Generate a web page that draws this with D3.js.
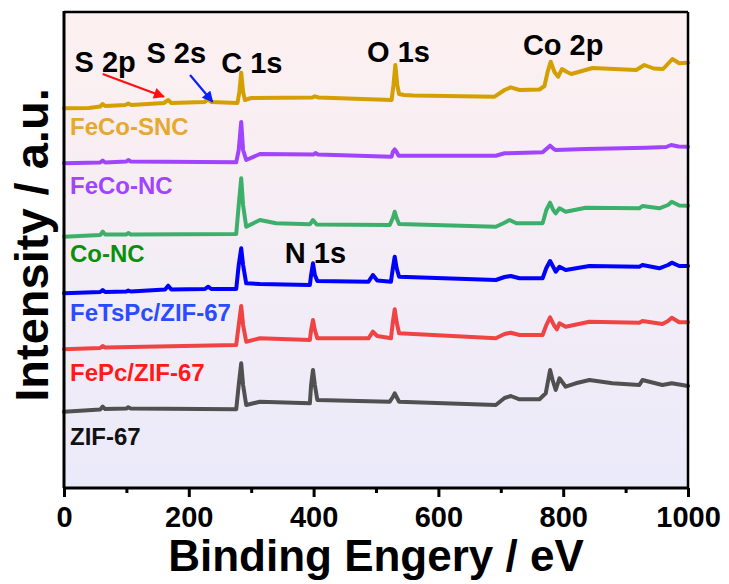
<!DOCTYPE html>
<html><head><meta charset="utf-8">
<script src="https://cdn.jsdelivr.net/npm/d3@7"></script>
<style>body{margin:0;background:#fff}svg{display:block}text{font-family:"Liberation Sans",Arial,sans-serif;font-weight:bold}</style>
</head><body><svg id="c" width="729" height="584"></svg>
<script>
// Binding energy (eV) vs intensity (a.u., offset-stacked)
const xTicks = [0, 200, 400, 600, 800, 1000];
const xMinor = [100, 300, 500, 700, 900];
const seriesNames = ["FeCo-SNC", "FeCo-NC", "Co-NC", "FeTsPc/ZIF-67", "FePc/ZIF-67", "ZIF-67"];
const lineColors = ["#d49f00", "#a044ff", "#3cb06a", "#0000ff", "#f04444", "#505050"];
const labelColors = ["#e6a82e", "#a044ff", "#0a900a", "#2a4cff", "#ff1a1a", "#111111"];
const labelY = [353, 294, 226, 167, 107, 43];   // a.u. positions of the series labels

const fecoSNC = [[0,379.7],[40,380],[58,381.5],[62,384],[66,382],[98,383],[103,384.5],[108,383],[160,385],[167,388],[172,385],[225,386],[231,388.5],[236,386],[278,385],[281,396],[284,415.3],[287,396],[290,388],[300,390],[398,390.5],[402,391.7],[408,390.5],[525,388],[528,403],[531,423],[534,403],[537,394],[545,393],[560,392.5],[690,391.3],[706,398],[716,400.7],[730,398],[762,398.5],[770,402],[775,416],[780,426.3],[786,416],[792,411.3],[798,419],[806,416],[813,414],[847,420],[917,418],[930,423],[945,419.5],[960,419],[975,429],[986,424.7],[1000,425.3]];
const fecoNC = [[0,324.7],[58,325.5],[62,327.5],[66,325.5],[100,326.5],[103,328],[107,326.5],[276,325.7],[280,338],[284,366],[287,338],[292,328],[314,334],[400,333.5],[403,335],[407,333.5],[525,331.3],[527,336],[530,338.7],[533,336],[536,332.3],[692,332.3],[706,334.7],[767,335.7],[773,339],[779,342.3],[785,339],[788,338],[836,339],[933,340.3],[965,341],[973,343],[985,341.5],[1000,341.3]];
const coNC = [[0,251.3],[58,253],[62,256.3],[66,253.5],[100,253.5],[103,255],[107,253.5],[276,254],[280,283],[284,309.7],[287,283],[292,261.3],[314,268],[340,264.7],[394,263.7],[399,268],[405,263.5],[522,263],[527,270],[530,276.3],[533,270],[537,264],[692,261.3],[705,265],[714,268],[725,264.7],[767,264.7],[773,278],[779,285.3],[784,278],[788,274.7],[794,279.7],[804,276.3],[836,280.3],[922,279.7],[927,282],[954,279.7],[968,283],[974,286.3],[986,282.5],[1000,282.3]];
const feTsPc = [[0,194.7],[58,196],[62,198],[66,196],[100,196.5],[103,197.5],[107,196.5],[162,198.5],[167,202.3],[172,198.5],[226,199],[231,201.3],[236,199],[276,199],[280,223],[284,239.7],[287,223],[292,204.7],[314,204],[394,203],[396,213],[399,224.7],[402,213],[406,207],[488,206.3],[495,213],[502,207.5],[524,206.3],[527,220],[530,231.3],[533,220],[537,211.3],[692,208],[706,211],[716,212],[730,209.7],[767,209.7],[773,220],[779,227],[785,220],[788,216.3],[794,221.3],[804,218],[842,222],[922,221.3],[927,223],[954,219.7],[968,223],[974,225.3],[986,222],[1000,222]];
const fePc = [[0,138.7],[58,140],[62,142],[66,140.5],[276,143],[280,163],[284,182],[287,163],[292,146.3],[314,149.7],[394,148],[396,158],[399,168],[402,158],[406,149.7],[488,149.7],[495,156.3],[502,152],[524,149.7],[527,166],[530,178.7],[533,166],[537,154.7],[692,149.7],[706,154],[716,155.3],[730,153],[767,153],[773,163],[779,170.7],[785,163],[790,158.7],[794,164.7],[804,161.3],[842,166.3],[922,165.3],[927,167],[959,164],[968,167],[974,170.3],[986,165.7],[1000,165.7]];
const zif67 = [[0,76.3],[58,78.5],[62,81.3],[66,79],[100,79.5],[103,80.7],[107,79.5],[276,78.7],[280,103],[284,124.7],[287,103],[292,83],[314,86.3],[394,84.7],[396,103],[399,118],[402,103],[406,88],[522,86.3],[527,91],[530,94.7],[533,91],[537,86.3],[692,83],[706,90],[716,92],[730,88.7],[762,88.7],[772,94.7],[776,108],[779,118],[783,108],[788,98],[794,109.7],[804,101.3],[820,104.7],[842,108],[879,104.7],[922,103],[927,108],[959,103],[974,104.7],[1000,102]];
const seriesData = [fecoSNC, fecoNC, coNC, feTsPc, fePc, zif67];

// peak annotations: [text, eV (centre), a.u. baseline]
const peakLabels = [["S 2p",66,416],["S 2s",180,425],["C 1s",301,415],["O 1s",536,426],["Co 2p",800,433],["N 1s",403,225]];
// arrows: [fromEV, fromAU, toEV, toAU, colour]
const arrows = [[62,414,160,391.3,"#ff1010"],[202,413,238,386.3,"#0a20ff"]];

const svg = d3.select("#c");
const L = 64, R = 688, T = 12, B = 488;
const x = d3.scaleLinear().domain([0,1000]).range([L,R]);
const y = d3.scaleLinear().domain([0,476]).range([B,T]);

const defs = svg.append("defs");
const g = defs.append("linearGradient").attr("id","bg").attr("x1",0).attr("y1",0).attr("x2",0).attr("y2",1);
g.append("stop").attr("offset","0%").attr("stop-color","#fdf0f0");
g.append("stop").attr("offset","100%").attr("stop-color","#ebeafa");
svg.append("rect").attr("x",L).attr("y",T).attr("width",R-L).attr("height",B-T).attr("fill","url(#bg)");

const line = d3.line().x(d=>x(d[0])).y(d=>y(d[1]));
seriesData.forEach((s,i)=>{
  svg.append("path").datum(s).attr("d",line).attr("fill","none")
    .attr("stroke",lineColors[i]).attr("stroke-width",4)
    .attr("stroke-linejoin","round").attr("stroke-linecap","round");
});

seriesNames.forEach((n,i)=>{
  svg.append("text").attr("x",70).attr("y",y(labelY[i])).attr("fill",labelColors[i])
    .attr("font-size",24).text(n);
});

peakLabels.forEach(p=>{
  svg.append("text").attr("x",x(p[1])).attr("y",y(p[2])).attr("text-anchor","middle")
    .attr("font-size",29).attr("fill","#000").text(p[0]);
});

arrows.forEach((a,i)=>{
  const id="ah"+i;
  defs.append("marker").attr("id",id).attr("viewBox","0 0 10 10").attr("refX",9).attr("refY",5)
    .attr("markerWidth",5.5).attr("markerHeight",5).attr("orient","auto").attr("markerUnits","strokeWidth")
    .append("path").attr("d","M0,0L10,5L0,10z").attr("fill",a[4]);
  svg.append("line").attr("x1",x(a[0])).attr("y1",y(a[1])).attr("x2",x(a[2])).attr("y2",y(a[3]))
    .attr("stroke",a[4]).attr("stroke-width",2.2).attr("marker-end","url(#"+id+")");
});

// frame
svg.append("line").attr("x1",L).attr("x2",R).attr("y1",T).attr("y2",T).attr("stroke","#000").attr("stroke-width",2.5);
svg.append("line").attr("x1",R).attr("x2",R).attr("y1",T).attr("y2",B).attr("stroke","#000").attr("stroke-width",2.5);

const ax = svg.append("g").attr("transform",`translate(0,${B})`)
  .call(d3.axisBottom(x).tickValues(xTicks).tickSize(9).tickPadding(9).tickFormat(d3.format("d")));
ax.select(".domain").attr("stroke-width",3).attr("d",`M${L},0H${R}`);
ax.selectAll(".tick line").attr("stroke-width",3);
ax.selectAll(".tick text").attr("font-size",29).attr("font-family","Liberation Sans, Arial").attr("font-weight","bold");
const axm = svg.append("g").attr("transform",`translate(0,${B})`)
  .call(d3.axisBottom(x).tickValues(xMinor).tickSize(5).tickFormat(""));
axm.select(".domain").remove();
axm.selectAll(".tick line").attr("stroke-width",3);

const ay = svg.append("g").attr("transform",`translate(${L},0)`).call(d3.axisLeft(y).tickValues([]).tickSize(0));
ay.select(".domain").attr("stroke-width",3).attr("d",`M0,${T-1}V${B}`);

svg.append("text").attr("x",376).attr("y",571).attr("text-anchor","middle").attr("font-size",44).text("Binding Engery / eV");
svg.append("text").attr("transform","translate(48,245) rotate(-90)").attr("text-anchor","middle").attr("font-size",47).text("Intensity / a.u.");
</script></body></html>
